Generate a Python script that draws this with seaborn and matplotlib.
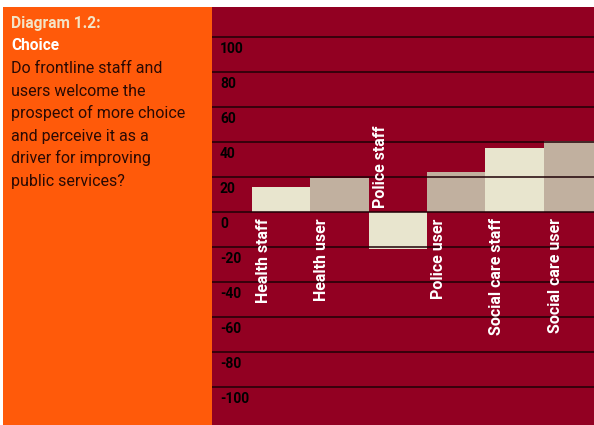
import matplotlib
matplotlib.use("Agg")
import matplotlib.pyplot as plt
import seaborn as sns
from matplotlib.patches import Rectangle

# chart data
categories = ["Health staff", "Health user", "Police staff",
              "Police user", "Social care staff", "Social care user"]
values = [14.5, 19.5, -21, 23, 37, 41]
bar_colors = ["#E8E5CE", "#C1B09F", "#E8E5CE", "#C1B09F", "#E8E5CE", "#C1B09F"]
y_ticks = [100, 80, 60, 40, 20, 0, -20, -40, -60, -80, -100]

title_line = "Diagram 1.2:"
subtitle_line = "Choice"
question_lines = ["Do frontline staff and", "users welcome the",
                  "prospect of more choice", "and perceive it as a",
                  "driver for improving", "public services?"]

ORANGE = "#FF5A0A"
CRIMSON = "#920022"

sns.set_theme(style="white")
plt.rcParams["font.family"] = ["Roboto", "DejaVu Sans"]

W, H = 594, 425
fig = plt.figure(figsize=(W / 100, H / 100), dpi=100)
fig.patch.set_facecolor("white")

# orange side panel
fig.add_artist(Rectangle((3 / W, 0), (212 - 3) / W, (H - 7) / H,
                         transform=fig.transFigure, facecolor=ORANGE,
                         edgecolor="none", zorder=0))

fig.text(11 / W, 1 - 28 / H, title_line, color="#F3E4C6", fontsize=11.2,
         fontweight="bold", va="baseline", ha="left")
fig.text(11 / W, 1 - 50.5 / H, subtitle_line, color="white", fontsize=11.2,
         fontweight="bold", va="baseline", ha="left")
for k, line in enumerate(question_lines):
    fig.text(11 / W, 1 - (73 + 22.6 * k) / H, line, color="#2A0A04",
             fontsize=11.5, va="baseline", ha="left")

# chart area
ax = fig.add_axes([212 / W, 0, (W - 212) / W, (H - 7) / H])
ax.set_facecolor(CRIMSON)
sns.barplot(x=categories, y=values, hue=categories, palette=bar_colors,
            width=1, saturation=1, legend=False, linewidth=0, ax=ax)

ax.set_ylim(-121.5, 117.3)
ax.set_xlim(-1.186, 5.366)
ax.set_yticks(y_ticks)
ax.yaxis.grid(True, color="#1E0006", linewidth=1.1)
ax.set_axisbelow(False)
ax.tick_params(length=0, labelleft=False, labelbottom=False)
ax.set_xlabel("")
ax.set_ylabel("")
for s in ax.spines.values():
    s.set_visible(False)

# tick labels sit inside the plot, just under each grid line
for t in y_ticks:
    ax.annotate(str(t), xy=(0, t), xycoords=("axes fraction", "data"),
                xytext=(8, -12), textcoords="offset pixels",
                ha="left", va="center", fontsize=10, fontweight="bold",
                color="black")

# category names, rotated, next to the zero line
for i, (cat, v) in enumerate(zip(categories, values)):
    if v >= 0:
        ax.annotate(cat, xy=(i - 0.3, 0), xytext=(0, -6),
                    textcoords="offset pixels", rotation=90,
                    ha="center", va="top", color="white",
                    fontsize=11.5, fontweight="bold")
    else:
        ax.annotate(cat, xy=(i - 0.3, 0), xytext=(0, 4),
                    textcoords="offset pixels", rotation=90,
                    ha="center", va="bottom", color="white",
                    fontsize=11.5, fontweight="bold")

fig.savefig("out.png", dpi=100, facecolor="white")
